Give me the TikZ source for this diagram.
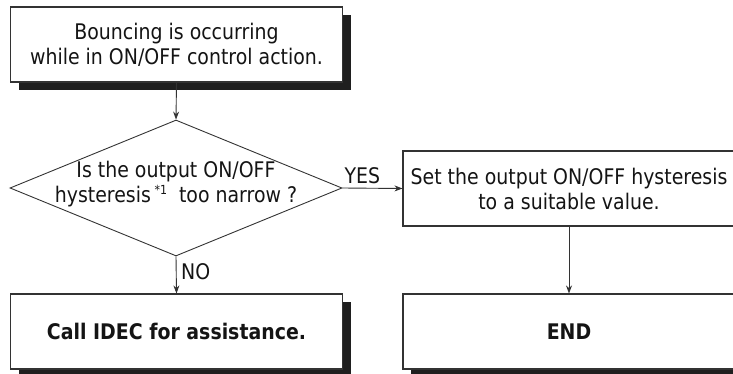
\documentclass[tikz,border=0pt]{standalone}
\usepackage{fontspec}
\setmainfont{DejaVu Sans}[FakeStretch=0.88]
\usetikzlibrary{shadows,arrows.meta,shapes.geometric}
\begin{document}
\begin{tikzpicture}[x=1pt,y=-1pt,
  txt/.style={font=\fontsize{21.5}{25}\selectfont, align=center, text=black!92},
  plainbox/.style={draw=black!80, line width=1.1pt, fill=white, minimum width=332pt, minimum height=75pt, inner sep=0pt},
  shbox/.style={plainbox, general shadow={fill=black!88, shadow xshift=8pt, shadow yshift=-8pt}},
  conn/.style={draw=black!80, line width=0.9pt, -{Stealth[length=8pt,width=6pt]}},
  lbl/.style={font=\fontsize{21.5}{24}\selectfont, text=black!92, inner sep=0pt}]
\useasboundingbox (0,0) rectangle (733,374);
\clip (0,0) rectangle (733,374);
\node[shbox, txt] (start) at (176.5,44.5) {Bouncing is occurring\\while in ON/OFF control action.};
\node[draw=black!80, line width=0.9pt, diamond, minimum width=332pt, minimum height=136pt, inner sep=0pt, aspect=2.44] (dec) at (176,188) {};
\node[txt] (dectext) at (176,184) {Is the output ON/OFF\\hysteresis\,\raisebox{8pt}{\fontsize{12.5}{12.5}\selectfont *1}\ \ too narrow ?};
\node[plainbox, txt] (set) at (569,188.5) {Set the output ON/OFF hysteresis\\to a suitable value.};
\node[shbox, txt, font=\bfseries\fontsize{21.5}{25}\selectfont] (call) at (176.5,331.5) {Call IDEC for assistance.};
\node[shbox, txt, font=\bfseries\fontsize{21.5}{25}\selectfont] (endbox) at (569,331.5) {END};
\draw[conn] (start.south) -- (dec.north);
\draw[conn] (dec.east) -- (set.west);
\node[lbl, anchor=base west] (yes) at ([xshift=2pt,yshift=5pt]dec.east) {YES};
\draw[conn] (dec.south) -- (call.north);
\node[lbl, anchor=base west] (no) at ([xshift=5pt,yshift=-23pt]dec.south) {NO};
\draw[conn] (set.south) -- (endbox.north);
\end{tikzpicture}
\end{document}
